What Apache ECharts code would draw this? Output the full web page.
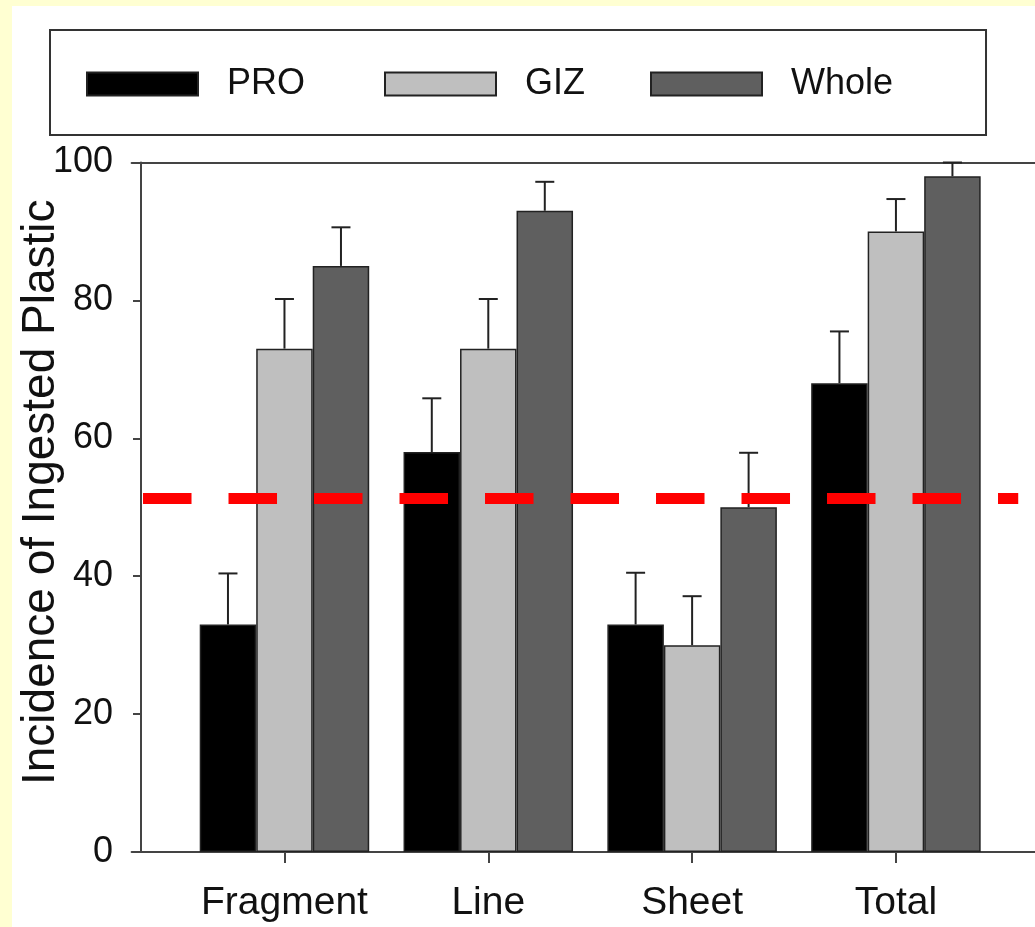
<!DOCTYPE html>
<html>
<head>
<meta charset="utf-8">
<script src="https://cdn.jsdelivr.net/npm/echarts@6/dist/echarts.min.js"></script>
<style>
  html, body { margin: 0; padding: 0; background: #ffffd2; width: 1035px; height: 927px; overflow: hidden; }
  #chart { position: absolute; left: 12px; top: 6px; width: 1023px; height: 921px; }
</style>
</head>
<body>
<div id="chart"></div>
<script>
// ---- data ----
const categories = ['Fragment', 'Line', 'Sheet', 'Total'];
const seriesNames = ['PRO', 'GIZ', 'Whole'];
const proValues   = [33, 58, 33, 68];
const gizValues   = [73, 73, 30, 90];
const wholeValues = [85, 93, 50, 98];
const proErr      = [7.4, 7.8, 7.5, 7.5];
const gizErr      = [7.2, 7.2, 7.1, 4.7];
const wholeErr    = [5.6, 4.2, 7.9, 2.0];
const yTicks      = [0, 20, 40, 60, 80, 100];
const threshold   = 51.3;
const thresholdFrom = 0.306;
const thresholdTo   = 4.6;

// ---- style ----
const FONT = '"Liberation Sans", Arial, Helvetica, sans-serif';
const colors = ['#000000', '#bfbfbf', '#5f5f5f'];
const BAR_W = 56.5;
const CAP_HALF = 9.5;
const positions = categories.map((c, i) => i + 1);

const valueSets = [proValues, gizValues, wholeValues];
const errSets = [proErr, gizErr, wholeErr];

const barSeries = seriesNames.map((name, s) => ({
  name: name,
  type: 'bar',
  barWidth: BAR_W,
  barGap: '0%',
  data: positions.map((p, i) => [p, valueSets[s][i]]),
  itemStyle: { color: colors[s], borderColor: '#222', borderWidth: 1.5 },
  z: 2
}));

const errSeries = seriesNames.map((name, s) => ({
  type: 'custom',
  name: name + ' err',
  data: positions.map((p, i) => [p, valueSets[s][i], errSets[s][i]]),
  encode: { x: 0, y: 1 },
  z: 3,
  renderItem: function (params, api) {
    const x = api.value(0), v = api.value(1), e = api.value(2);
    const base = api.coord([x, v]);
    const top = api.coord([x, v + e]);
    const px = base[0] + (s - 1) * BAR_W;
    const st = { stroke: '#222', lineWidth: 2 };
    return {
      type: 'group',
      children: [
        { type: 'line', shape: { x1: px, y1: base[1], x2: px, y2: top[1] }, style: st },
        { type: 'line', shape: { x1: px - CAP_HALF, y1: top[1], x2: px + CAP_HALF, y2: top[1] }, style: st }
      ]
    };
  }
}));

const thresholdSeries = {
  type: 'line',
  name: 'threshold',
  data: [],
  z: 5,
  markLine: {
    silent: true,
    symbol: ['none', 'none'],
    label: { show: false },
    lineStyle: { color: '#ff0000', width: 11, type: [48.5, 37], cap: 'butt' },
    data: [[{ coord: [thresholdFrom, threshold] }, { coord: [thresholdTo, threshold] }]]
  }
};

// legend: one component per entry so each swatch sits where the reference has it
const legendLefts = [74, 372, 638];
const legendCommon = {
  orient: 'horizontal',
  itemWidth: 111,
  itemHeight: 23,
  icon: 'rect',
  selectedMode: false,
  textStyle: { fontFamily: FONT, fontSize: 36, color: '#111', padding: [0, 0, 0, 24] }
};
const legends = seriesNames.map((n, i) => Object.assign({}, legendCommon, {
  data: [n],
  left: legendLefts[i],
  top: 60,
  padding: 0,
  z: 10
}));
// the first one also carries the framed white box around all entries
Object.assign(legends[0], {
  left: 38,
  top: 24,
  padding: [36, 681, 33, 36],
  borderColor: '#333',
  borderWidth: 2,
  backgroundColor: '#ffffff',
  z: 5
});

const option = {
  backgroundColor: '#ffffff',
  animation: false,
  legend: legends,
  grid: { left: 119.6, top: 156.5, width: 917.2, height: 689.5, containLabel: false, outerBoundsMode: 'none' },
  xAxis: [{
    type: 'value',
    min: 0.25,
    max: 4.75,
    position: 'bottom',
    splitLine: { show: false },
    axisLine: { show: true, onZero: false, lineStyle: { color: '#444', width: 2 } },
    axisTick: { show: true, customValues: positions, length: 11, inside: false, lineStyle: { color: '#444', width: 2 } },
    axisLabel: {
      show: true,
      customValues: positions,
      formatter: v => categories[Math.round(v) - 1] || '',
      fontFamily: FONT, fontSize: 39, color: '#111', margin: 32
    }
  }, {
    type: 'value',
    min: 0.25,
    max: 4.75,
    position: 'top',
    splitLine: { show: false },
    axisLine: { show: true, onZero: false, lineStyle: { color: '#444', width: 2 } },
    axisTick: { show: false },
    axisLabel: { show: false }
  }],
  yAxis: {
    type: 'value',
    min: 0,
    max: 100,
    interval: 20,
    offset: -9.4,
    splitLine: { show: false },
    axisLine: { show: true, onZero: false, lineStyle: { color: '#444', width: 2 } },
    axisTick: { show: true, length: 8, inside: false, lineStyle: { color: '#444', width: 2 } },
    axisLabel: { fontFamily: FONT, fontSize: 36, color: '#111', margin: 28,
      formatter: v => (yTicks.indexOf(v) >= 0 ? String(v) : '') },
    name: 'Incidence of Ingested Plastic',
    nameLocation: 'middle',
    nameGap: 77,
    nameMoveOverlap: false,
    nameRotate: 90,
    nameTextStyle: { fontFamily: FONT, fontSize: 46, color: '#111', padding: [0, 0, 0, 30] }
  },
  series: [...barSeries, ...errSeries, thresholdSeries]
};

const chart = echarts.init(document.getElementById('chart'), null, { renderer: 'canvas' });
chart.setOption(option);
</script>
</body>
</html>
